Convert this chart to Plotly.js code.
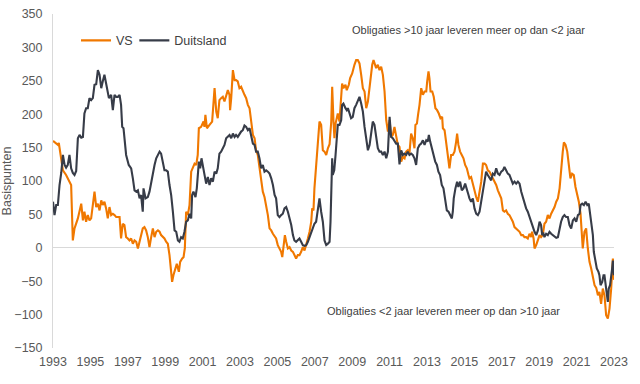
<!DOCTYPE html>
<html>
<head>
<meta charset="utf-8">
<script src="https://cdn.plot.ly/plotly-3.0.1.min.js"></script>
<style>html,body{margin:0;padding:0;background:#fff;}#chart{width:640px;height:384px;}</style>
</head>
<body>
<div id="chart"></div>
<script>
// Yield curve spread (10y - 2y), basis points, decimal years
const vsYears = [1993.00,1993.17,1993.26,1993.31,1993.38,1993.44,1993.53,1993.70,1993.85,1993.97,1994.06,1994.15,1994.33,1994.51,1994.60,1994.68,1994.77,1994.86,1994.95,1995.04,1995.22,1995.31,1995.40,1995.49,1995.58,1995.66,1995.75,1995.84,1995.93,1996.02,1996.11,1996.20,1996.29,1996.38,1996.47,1996.56,1996.64,1996.73,1996.82,1996.91,1997.00,1997.09,1997.18,1997.27,1997.36,1997.45,1997.54,1997.63,1997.71,1997.80,1997.89,1997.98,1998.07,1998.16,1998.25,1998.34,1998.43,1998.52,1998.61,1998.70,1998.78,1998.87,1998.96,1999.05,1999.14,1999.23,1999.32,1999.37,1999.44,1999.55,1999.62,1999.73,1999.80,1999.91,1999.98,2000.05,2000.12,2000.21,2000.30,2000.39,2000.48,2000.57,2000.66,2000.74,2000.80,2000.92,2001.05,2001.10,2001.15,2001.23,2001.37,2001.51,2001.64,2001.73,2001.81,2001.90,2001.99,2002.08,2002.17,2002.26,2002.35,2002.44,2002.47,2002.53,2002.62,2002.71,2002.79,2002.88,2002.97,2003.06,2003.15,2003.24,2003.33,2003.42,2003.51,2003.60,2003.69,2003.78,2003.86,2003.95,2004.04,2004.13,2004.22,2004.31,2004.40,2004.49,2004.58,2004.67,2004.76,2004.85,2004.93,2005.02,2005.11,2005.20,2005.26,2005.33,2005.40,2005.47,2005.56,2005.65,2005.74,2005.83,2005.91,2006.00,2006.09,2006.18,2006.27,2006.36,2006.45,2006.54,2006.63,2006.72,2006.81,2006.86,2006.93,2006.98,2007.07,2007.16,2007.25,2007.34,2007.43,2007.52,2007.61,2007.70,2007.79,2007.88,2007.93,2008.00,2008.05,2008.11,2008.23,2008.32,2008.41,2008.46,2008.53,2008.64,2008.71,2008.82,2008.89,2009.00,2009.12,2009.21,2009.30,2009.39,2009.48,2009.57,2009.66,2009.75,2009.84,2009.93,2010.07,2010.14,2010.21,2010.28,2010.37,2010.46,2010.55,2010.64,2010.73,2010.82,2010.91,2011.00,2011.08,2011.17,2011.26,2011.35,2011.44,2011.53,2011.62,2011.71,2011.80,2011.89,2011.97,2012.06,2012.15,2012.24,2012.33,2012.38,2012.46,2012.53,2012.60,2012.69,2012.78,2012.87,2012.96,2013.01,2013.08,2013.13,2013.19,2013.28,2013.36,2013.45,2013.54,2013.63,2013.72,2013.81,2013.85,2013.94,2014.02,2014.11,2014.20,2014.29,2014.38,2014.47,2014.56,2014.61,2014.68,2014.77,2014.86,2014.95,2015.04,2015.13,2015.22,2015.27,2015.36,2015.45,2015.54,2015.63,2015.72,2015.81,2015.90,2015.99,2016.08,2016.16,2016.25,2016.34,2016.43,2016.52,2016.61,2016.70,2016.79,2016.88,2016.97,2017.06,2017.14,2017.23,2017.32,2017.41,2017.50,2017.59,2017.68,2017.77,2017.86,2017.95,2018.04,2018.13,2018.21,2018.30,2018.39,2018.48,2018.57,2018.62,2018.70,2018.75,2018.84,2018.93,2019.02,2019.10,2019.19,2019.28,2019.37,2019.46,2019.55,2019.64,2019.73,2019.82,2019.91,2020.00,2020.09,2020.17,2020.26,2020.32,2020.41,2020.50,2020.58,2020.67,2020.76,2020.85,2020.94,2021.03,2021.12,2021.21,2021.26,2021.33,2021.42,2021.51,2021.60,2021.69,2021.78,2021.87,2021.96,2022.05,2022.14,2022.22,2022.31,2022.40,2022.49,2022.58,2022.67,2022.76,2022.85,2022.94,2023.00];
const vsValues = [160,156,154,157,144,134,116,109,101,94,11,29,44,66,41,54,39,49,41,44,84,61,66,56,71,64,69,59,44,61,49,51,49,46,46,46,14,36,34,16,14,11,14,6,11,9,-1,9,16,29,31,26,16,1,16,29,16,24,26,24,19,16,14,9,6,-11,-41,-51,-41,-31,-24,-36,-21,-16,-14,-1,54,49,64,114,119,126,124,139,179,181,189,181,199,179,184,189,239,204,194,221,224,226,219,229,236,229,206,224,266,251,251,249,239,241,234,229,224,214,209,189,169,164,146,139,119,99,84,76,64,49,29,26,21,16,14,4,-1,-6,-14,1,19,9,-1,1,-4,-6,-11,-16,-11,-11,-6,1,-4,4,14,24,39,59,56,89,119,149,189,184,146,144,139,149,155,189,241,189,164,186,201,189,221,246,239,244,236,244,254,261,274,281,281,276,259,239,234,209,219,244,274,281,274,269,274,266,271,259,234,191,174,191,166,169,181,164,154,151,129,136,134,144,146,141,171,164,149,184,186,201,214,239,229,234,234,249,264,254,234,234,226,209,206,201,194,196,179,176,154,139,119,139,139,144,159,171,154,144,139,134,124,119,109,104,106,96,84,76,69,84,99,126,126,124,116,114,109,106,99,94,86,81,74,56,54,56,51,49,44,39,31,29,26,24,19,19,16,16,14,21,16,24,14,-1,4,11,19,16,19,36,39,49,44,51,56,61,69,74,89,119,144,158,154,144,124,104,111,109,91,79,69,51,24,-1,24,29,-1,-21,-31,-44,-56,-60,-71,-66,-84,-61,-71,-101,-106,-91,-61,-16,-48];

const deYears = [1993.00,1993.08,1993.17,1993.26,1993.35,1993.44,1993.53,1993.62,1993.70,1993.79,1993.88,1993.97,1994.06,1994.15,1994.24,1994.33,1994.42,1994.51,1994.60,1994.68,1994.77,1994.86,1994.95,1995.04,1995.13,1995.22,1995.31,1995.40,1995.49,1995.58,1995.66,1995.75,1995.84,1995.92,1995.99,1996.11,1996.20,1996.29,1996.38,1996.47,1996.56,1996.64,1996.70,1996.77,1996.91,1997.05,1997.18,1997.27,1997.36,1997.45,1997.54,1997.63,1997.71,1997.80,1997.84,1997.95,1998.07,1998.16,1998.25,1998.34,1998.43,1998.52,1998.61,1998.70,1998.78,1998.87,1998.96,1999.05,1999.14,1999.23,1999.32,1999.41,1999.50,1999.59,1999.68,1999.76,1999.85,1999.94,2000.03,2000.12,2000.21,2000.30,2000.39,2000.44,2000.51,2000.62,2000.69,2000.80,2000.87,2000.94,2001.01,2001.10,2001.19,2001.28,2001.37,2001.46,2001.55,2001.64,2001.73,2001.81,2001.90,2001.99,2002.08,2002.17,2002.26,2002.35,2002.44,2002.53,2002.62,2002.71,2002.79,2002.88,2002.97,2003.06,2003.15,2003.24,2003.33,2003.42,2003.51,2003.60,2003.69,2003.78,2003.86,2003.95,2004.04,2004.13,2004.22,2004.31,2004.40,2004.49,2004.58,2004.67,2004.76,2004.85,2004.93,2005.02,2005.11,2005.20,2005.29,2005.38,2005.47,2005.56,2005.65,2005.74,2005.83,2005.91,2006.00,2006.09,2006.18,2006.27,2006.36,2006.45,2006.54,2006.63,2006.72,2006.81,2006.89,2006.98,2007.07,2007.16,2007.25,2007.34,2007.43,2007.52,2007.61,2007.70,2007.79,2007.84,2007.88,2007.93,2007.96,2008.04,2008.11,2008.18,2008.23,2008.32,2008.41,2008.46,2008.53,2008.64,2008.71,2008.77,2008.86,2008.94,2009.03,2009.12,2009.21,2009.30,2009.39,2009.48,2009.57,2009.66,2009.75,2009.84,2009.93,2010.01,2010.10,2010.19,2010.28,2010.37,2010.46,2010.55,2010.64,2010.73,2010.82,2010.91,2011.00,2011.08,2011.17,2011.26,2011.35,2011.44,2011.53,2011.62,2011.71,2011.80,2011.89,2011.97,2012.06,2012.15,2012.24,2012.33,2012.42,2012.51,2012.60,2012.69,2012.78,2012.87,2012.96,2013.04,2013.10,2013.17,2013.26,2013.35,2013.44,2013.53,2013.61,2013.70,2013.79,2013.88,2013.97,2014.06,2014.15,2014.24,2014.33,2014.38,2014.43,2014.52,2014.61,2014.68,2014.77,2014.86,2014.95,2015.04,2015.13,2015.22,2015.27,2015.36,2015.45,2015.54,2015.63,2015.72,2015.81,2015.90,2015.99,2016.08,2016.16,2016.25,2016.34,2016.43,2016.52,2016.61,2016.70,2016.79,2016.88,2016.97,2017.06,2017.14,2017.23,2017.32,2017.41,2017.50,2017.59,2017.68,2017.77,2017.86,2017.95,2018.04,2018.13,2018.21,2018.30,2018.39,2018.48,2018.57,2018.66,2018.75,2018.84,2018.93,2019.02,2019.10,2019.16,2019.23,2019.28,2019.37,2019.46,2019.55,2019.64,2019.73,2019.82,2019.91,2020.00,2020.09,2020.17,2020.26,2020.35,2020.44,2020.53,2020.62,2020.71,2020.80,2020.89,2020.98,2021.07,2021.16,2021.21,2021.30,2021.39,2021.48,2021.57,2021.65,2021.73,2021.78,2021.87,2021.92,2022.01,2022.08,2022.17,2022.22,2022.28,2022.37,2022.44,2022.49,2022.58,2022.67,2022.72,2022.79,2022.90,2022.94,2023.00];
const deValues = [69,49,64,64,94,112,139,124,120,124,139,119,112,109,115,164,169,165,166,201,209,209,224,221,224,244,245,266,259,239,249,259,246,230,224,229,206,229,226,226,229,214,181,179,139,124,119,104,86,84,86,74,79,54,89,74,76,84,99,114,124,134,139,144,141,129,116,116,114,94,79,54,26,24,11,9,16,14,24,39,41,51,44,79,84,76,89,129,119,134,124,109,96,106,94,104,99,114,111,119,141,144,149,154,164,166,169,164,171,166,169,166,171,174,176,183,181,176,179,166,156,154,144,144,134,119,124,114,116,114,111,104,94,79,74,49,46,49,51,59,61,54,44,34,19,11,9,11,14,9,4,3,4,9,16,26,29,36,39,54,74,54,39,11,4,6,9,39,89,134,109,116,139,164,184,184,191,214,216,209,206,209,201,194,196,209,214,219,226,216,204,181,159,146,154,174,189,184,166,149,144,144,139,144,134,144,196,166,164,159,156,156,125,146,139,141,139,144,139,141,139,134,124,149,154,156,161,154,161,159,169,159,149,139,129,124,114,109,94,89,69,56,54,49,44,54,74,89,99,91,99,86,89,96,89,79,74,69,74,59,51,49,54,69,89,101,114,109,104,101,111,109,119,111,109,114,116,121,116,111,109,101,96,99,96,99,96,84,74,69,59,54,46,39,29,24,19,26,39,34,19,21,16,21,19,24,21,19,16,15,16,29,39,46,49,46,46,34,29,41,44,39,49,51,64,66,64,69,64,66,49,31,19,-6,-21,-31,-36,-41,-56,-51,-41,-41,-61,-81,-61,-56,-31,-19,-41];

const seriesNames = ["VS", "Duitsland"];
const seriesColors = ["#f07800", "#373c48"];
const yTitle = "Basispunten";
const noteTop = "Obligaties >10 jaar leveren meer op dan <2 jaar";
const noteBottom = "Obligaties <2 jaar leveren meer op dan >10 jaar";

const traces = [
  {x: vsYears, y: vsValues, name: seriesNames[0], type: "scatter", mode: "lines",
   legend: "legend", line: {color: seriesColors[0], width: 2.1}},
  {x: deYears, y: deValues, name: seriesNames[1], type: "scatter", mode: "lines",
   legend: "legend2", line: {color: seriesColors[1], width: 2.1}}
];

const fontFam = "Liberation Sans, Arial, sans-serif";
const legendFont = {size: 12.5, color: "#404040"};
const layout = {
  width: 640, height: 384,
  margin: {l: 53, r: 26, t: 14, b: 36},
  paper_bgcolor: "#ffffff", plot_bgcolor: "#ffffff",
  font: {family: fontFam, size: 12.5, color: "#595959"},
  showlegend: true,
  legend: {orientation: "h", x: 0.041, y: 0.92, xanchor: "left", yanchor: "middle",
           font: legendFont, bgcolor: "rgba(0,0,0,0)"},
  legend2: {orientation: "h", x: 0.145, y: 0.92, xanchor: "left", yanchor: "middle",
            font: legendFont, bgcolor: "rgba(0,0,0,0)"},
  xaxis: {type: "linear", range: [1993, 2023], tick0: 1993, dtick: 2, tickformat: "d",
          showgrid: false, zeroline: false, showline: false,
          ticks: "outside", ticklen: 2, tickcolor: "rgba(0,0,0,0)",
          tickfont: {size: 12.5, color: "#595959"}},
  yaxis: {range: [-150, 350], dtick: 50, showgrid: false,
          zeroline: true, zerolinecolor: "#d9d9d9", zerolinewidth: 1.2,
          showline: true, linecolor: "#d9d9d9", linewidth: 1,
          ticks: "outside", ticklen: 7, tickcolor: "rgba(0,0,0,0)",
          tickfont: {size: 12.5, color: "#595959"},
          title: {text: yTitle, font: {size: 12.5, color: "#595959"}, standoff: 4}},
  annotations: [
    {x: 2015.22, y: 326, xref: "x", yref: "y", text: noteTop, showarrow: false,
     font: {size: 11, color: "#404040"}, xanchor: "center", yanchor: "middle"},
    {x: 2013.88, y: -94.6, xref: "x", yref: "y", text: noteBottom, showarrow: false,
     font: {size: 11, color: "#404040"}, xanchor: "center", yanchor: "middle"}
  ]
};

Plotly.newPlot("chart", traces, layout, {displayModeBar: false, staticPlot: true});
</script>
</body>
</html>
